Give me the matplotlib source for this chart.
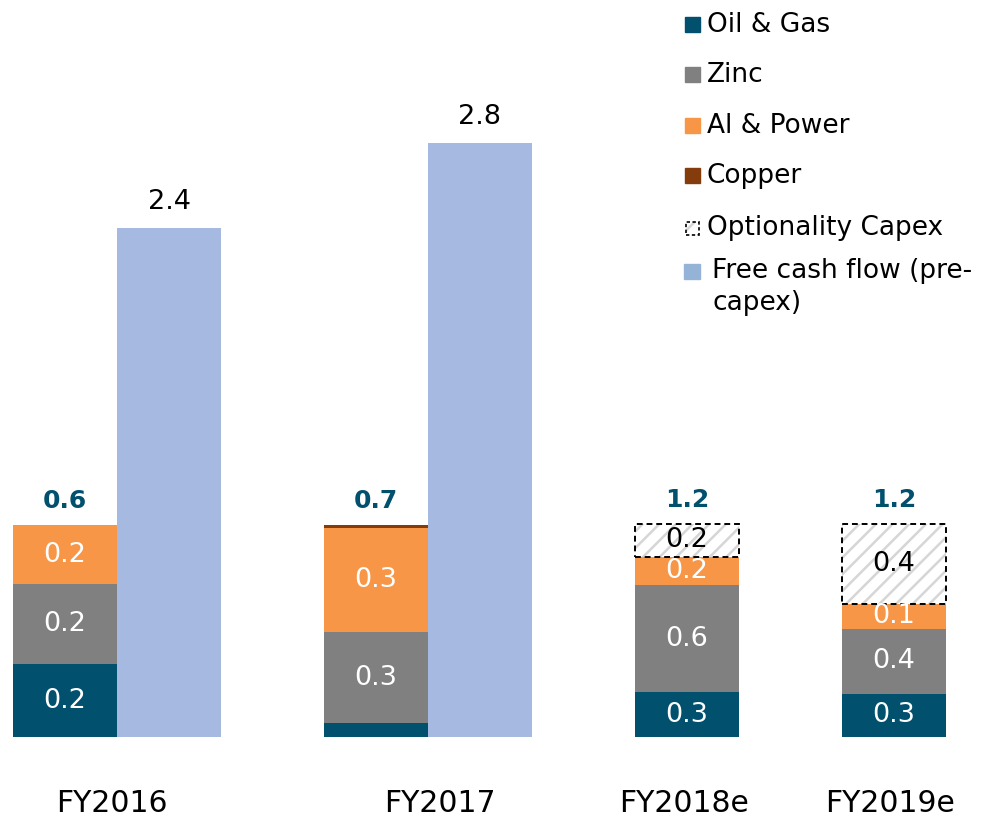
import matplotlib.pyplot as plt
from matplotlib.patches import Rectangle

plt.rcParams['font.family'] = ['DejaVu Sans']
plt.rcParams['hatch.linewidth'] = 1.8

# data
years = ['FY2016', 'FY2017', 'FY2018e', 'FY2019e']
oil_gas = [0.344, 0.066, 0.212, 0.203]
zinc = [0.377, 0.429, 0.505, 0.307]
al_power = [0.278, 0.490, 0.132, 0.118]
copper = [0.0, 0.014, 0.0, 0.0]
optionality = [0.0, 0.0, 0.156, 0.377]
oil_lbl = ['0.2', '', '0.3', '0.3']
zinc_lbl = ['0.2', '0.3', '0.6', '0.4']
al_lbl = ['0.2', '0.3', '0.2', '0.1']
opt_lbl = ['', '', '0.2', '0.4']
total_lbl = ['0.6', '0.7', '1.2', '1.2']
fcf_years = ['FY2016', 'FY2017']
fcf = [2.4, 2.8]
fcf_lbl = ['2.4', '2.8']

c_oil = '#00506E'
c_zinc = '#808080'
c_al = '#F79646'
c_cu = '#843C0C'
c_fcf = '#A6B9E0'

W, H = 981, 816
base_px = 737
unit = 212.0

fig = plt.figure(figsize=(W / 100, H / 100), dpi=100)
ax = fig.add_axes([0, 0, 1, 1])
ax.set_xlim(0, W)
ax.set_ylim(-(H - base_px) / unit, base_px / unit)
ax.axis('off')


def py(p):
    # pixel row -> data y
    return (base_px - p) / unit


stack_x = [65, 376, 687, 894]
fcf_x = [169, 480]
bw = 104
label_x = [112, 440, 684, 890]

bottom = [0.0] * 4
for vals, col, lbls in [(oil_gas, c_oil, oil_lbl), (zinc, c_zinc, zinc_lbl),
                        (al_power, c_al, al_lbl), (copper, c_cu, None)]:
    ax.bar(stack_x, vals, bw, bottom=bottom, color=col, edgecolor='none')
    if lbls:
        for i, t in enumerate(lbls):
            if t:
                ax.text(stack_x[i], bottom[i] + vals[i] / 2, t, ha='center',
                        va='center', color='white', fontsize=19.5)
    bottom = [b + v for b, v in zip(bottom, vals)]

# optionality capex
for i, v in enumerate(optionality):
    if v <= 0:
        continue
    ax.bar(stack_x[i], v, bw, bottom=bottom[i], color='white',
           edgecolor='#d6d6d6', hatch='//', linewidth=0)
    ax.bar(stack_x[i], v, bw, bottom=bottom[i], color='none',
           edgecolor='black', linestyle=(0, (3, 2)), linewidth=1.4)
    ax.text(stack_x[i], bottom[i] + v / 2, opt_lbl[i], ha='center',
            va='center', color='black', fontsize=19.5)
    bottom[i] += v

for i, t in enumerate(total_lbl):
    ax.text(stack_x[i], bottom[i] + 24 / unit, t, ha='center', va='center',
            color=c_oil, fontsize=18, fontweight='bold')

# free cash flow
ax.bar(fcf_x, fcf, bw, color=c_fcf, edgecolor='none')
for x, v, t in zip(fcf_x, fcf, fcf_lbl):
    ax.text(x, v + 26 / unit, t, ha='center', va='center', fontsize=19.5)

# category labels
for x, t in zip(label_x, years):
    ax.text(x, py(803), t, ha='center', va='center', fontsize=21.5)

# legend
leg = [('Oil & Gas', c_oil, 25), ('Zinc', c_zinc, 75), ('Al & Power', c_al, 126),
       ('Copper', c_cu, 176)]
for name, col, yc in leg:
    ax.add_patch(Rectangle((685, py(yc + 7.5)), 15, 15 / unit, color=col))
    ax.text(707, py(yc), name, va='center', fontsize=19)
ax.add_patch(Rectangle((686, py(235)), 13, 13 / unit, facecolor='white',
                       edgecolor='#d6d6d6', hatch='//', linewidth=0))
ax.add_patch(Rectangle((686, py(235)), 13, 13 / unit, facecolor='none',
                       edgecolor='black', linestyle=(0, (2, 1.5)), linewidth=1.2))
ax.text(707, py(228), 'Optionality Capex', va='center', fontsize=19)
ax.add_patch(Rectangle((684, py(279)), 16, 15 / unit, color='#95B3D7'))
ax.text(712, py(287), 'Free cash flow (pre-\ncapex)', va='center', fontsize=19,
        linespacing=1.3)

fig.savefig('out.png', dpi=100)
